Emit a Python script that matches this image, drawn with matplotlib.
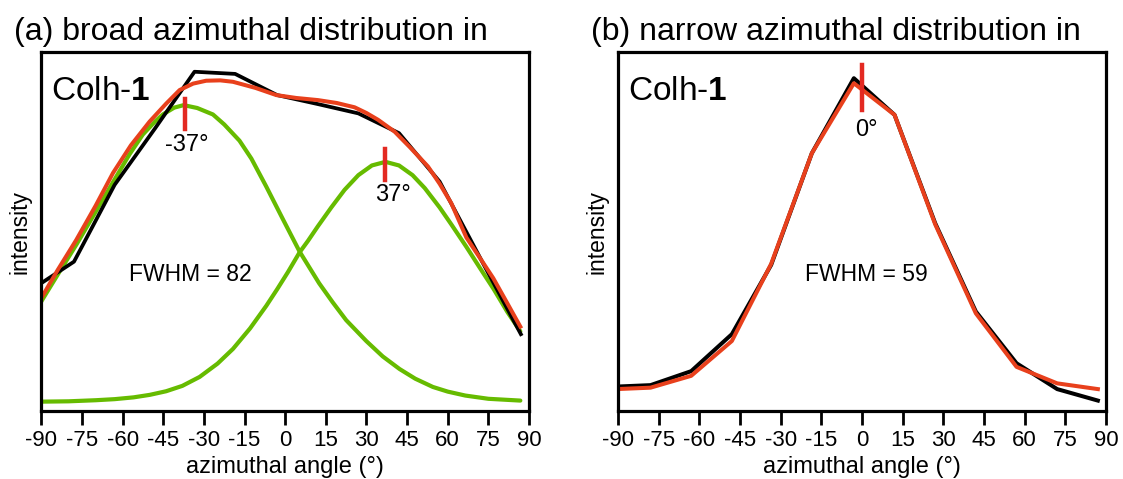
import matplotlib.pyplot as plt

plt.rcParams['font.family'] = ['Liberation Sans', 'DejaVu Sans']
plt.rcParams['mathtext.fontset'] = 'custom'
plt.rcParams['mathtext.rm'] = 'Liberation Sans'
plt.rcParams['mathtext.bf'] = 'Liberation Sans:bold'
plt.rcParams['axes.unicode_minus'] = False

# angles of the measured points (deg)
angles = [-90.5, -78, -63, -48, -33.5, -18.5, -3, 12, 27, 42, 57, 72, 87]

# (a) broad distribution: measured intensity (normalised to the frame height)
meas_a = [0.354, 0.416, 0.63, 0.788, 0.945, 0.939, 0.880, 0.855, 0.829, 0.774, 0.639, 0.426, 0.214]

# (a) total fit (red)
fit_a_x = [-90.5, -84, -77.2, -70, -63.6, -57, -50.1, -44, -39, -34, -29.2, -24, -19.3, -11,
           -3.3, 4, 12.1, 19, 25.6, 30, 34.3, 40.4, 46, 52.7, 57, 61.3, 66.9, 72, 76.8, 82, 86.8]
fit_a_y = [0.309, 0.393, 0.476, 0.572, 0.663, 0.740, 0.806, 0.856, 0.894, 0.912, 0.920, 0.921, 0.917, 0.900,
           0.880, 0.872, 0.866, 0.858, 0.846, 0.830, 0.811, 0.778, 0.735, 0.681, 0.633, 0.579, 0.483, 0.425, 0.370, 0.300, 0.235]

# (a) component peak at -37 deg (green)
peak1_x = [-90.5, -84, -77, -70, -63, -57.5, -52.6, -48, -45.2, -41, -37.5, -32.5, -26.7, -22.5, -16.9,
           -12.5, -7, -0.85, 5.3, 12.5, 17.5, 22.5, 29.9, 36, 42.2, 48, 54.5, 60, 66.5, 75, 86.8]
peak1_y = [0.300, 0.380, 0.465, 0.555, 0.645, 0.715, 0.770, 0.807, 0.826, 0.845, 0.852, 0.844, 0.826, 0.798, 0.753,
           0.703, 0.625, 0.534, 0.444, 0.356, 0.303, 0.253, 0.195, 0.152, 0.117, 0.090, 0.067, 0.054, 0.043, 0.034, 0.029]

# (a) component peak at 37 deg (green)
peak2_x = [-90.5, -80, -70, -63, -56, -50, -44, -38, -31.6, -25, -19.3, -13, -7, -3, 1, 5.3, 8.4, 12, 17, 21.9,
           27, 32, 37, 42, 47, 51.5, 57, 61.3, 66.9, 72, 77, 82, 86.8]
peak2_y = [0.026, 0.027, 0.030, 0.033, 0.038, 0.045, 0.055, 0.070, 0.095, 0.132, 0.173, 0.230, 0.293, 0.339, 0.387, 0.442, 0.474, 0.514, 0.567, 0.616,
           0.657, 0.684, 0.694, 0.684, 0.657, 0.621, 0.567, 0.520, 0.457, 0.397, 0.339, 0.276, 0.222]

# (b) narrow distribution: measured and fit
meas_b = [0.068, 0.072, 0.111, 0.214, 0.407, 0.718, 0.927, 0.825, 0.523, 0.277, 0.133, 0.061, 0.029]
fit_b = [0.061, 0.065, 0.098, 0.195, 0.410, 0.718, 0.913, 0.825, 0.520, 0.272, 0.123, 0.077, 0.061]

xticks = [-90, -75, -60, -45, -30, -15, 0, 15, 30, 45, 60, 75, 90]

black = '#000000'
red = '#e8401c'
green = '#66bb00'
mark = '#e32a22'

fig = plt.figure(figsize=(11.23, 4.79), dpi=100)
ax1 = fig.add_axes([0.03695, 0.14196, 0.43411, 0.74948])
ax2 = fig.add_axes([0.55031, 0.14196, 0.43455, 0.74948])

ax1.plot(peak1_x, peak1_y, color=green, lw=3.0, solid_capstyle='round', solid_joinstyle='round')
ax1.plot(peak2_x, peak2_y, color=green, lw=3.0, solid_capstyle='round', solid_joinstyle='round')
ax1.plot(angles, meas_a, color=black, lw=2.7)
ax1.plot(fit_a_x, fit_a_y, color=red, lw=2.9, solid_joinstyle='round')

ax2.plot(angles, meas_b, color=black, lw=2.9)
ax2.plot(angles, fit_b, color=red, lw=2.9)

# peak position markers
ax1.plot([-37, -37], [0.786, 0.868], color=mark, lw=3.2)
ax1.plot([37, 37], [0.643, 0.729], color=mark, lw=3.2)
ax2.plot([0, 0], [0.838, 0.964], color=mark, lw=3.2)
ax1.text(-36.3, 0.741, '-37°', ha='center', va='center', fontsize=17)
ax1.text(39.7, 0.602, '37°', ha='center', va='center', fontsize=17)
ax2.text(1.6, 0.783, '0°', ha='center', va='center', fontsize=17)

ax1.text(-35, 0.362, 'FWHM = 82', ha='center', va='baseline', fontsize=16.5)
ax2.text(1.7, 0.362, 'FWHM = 59', ha='center', va='baseline', fontsize=16.5)

for ax in (ax1, ax2):
    ax.set_xlim(-90, 90)
    ax.set_ylim(0, 1)
    ax.set_xticks(xticks)
    ax.set_yticks([])
    ax.tick_params(axis='x', direction='out', length=10, width=2.0, labelsize=16, pad=4)
    for s in ax.spines.values():
        s.set_linewidth(2.3)
    ax.set_xlabel('azimuthal angle (°)', fontsize=17, labelpad=3)
    ax.set_ylabel('intensity', fontsize=16.5, labelpad=7)
    ax.text(0.02, 0.866, r'Colh-$\mathbf{1}$', transform=ax.transAxes,
            fontsize=24, va='baseline', ha='left')

fig.text(13.7 / 1123, 1 - 40 / 479, '(a) broad azimuthal distribution in', fontsize=23, va='baseline')
fig.text(590.7 / 1123, 1 - 40 / 479, '(b) narrow azimuthal distribution in', fontsize=23, va='baseline')

fig.savefig('out.png', dpi=100)
